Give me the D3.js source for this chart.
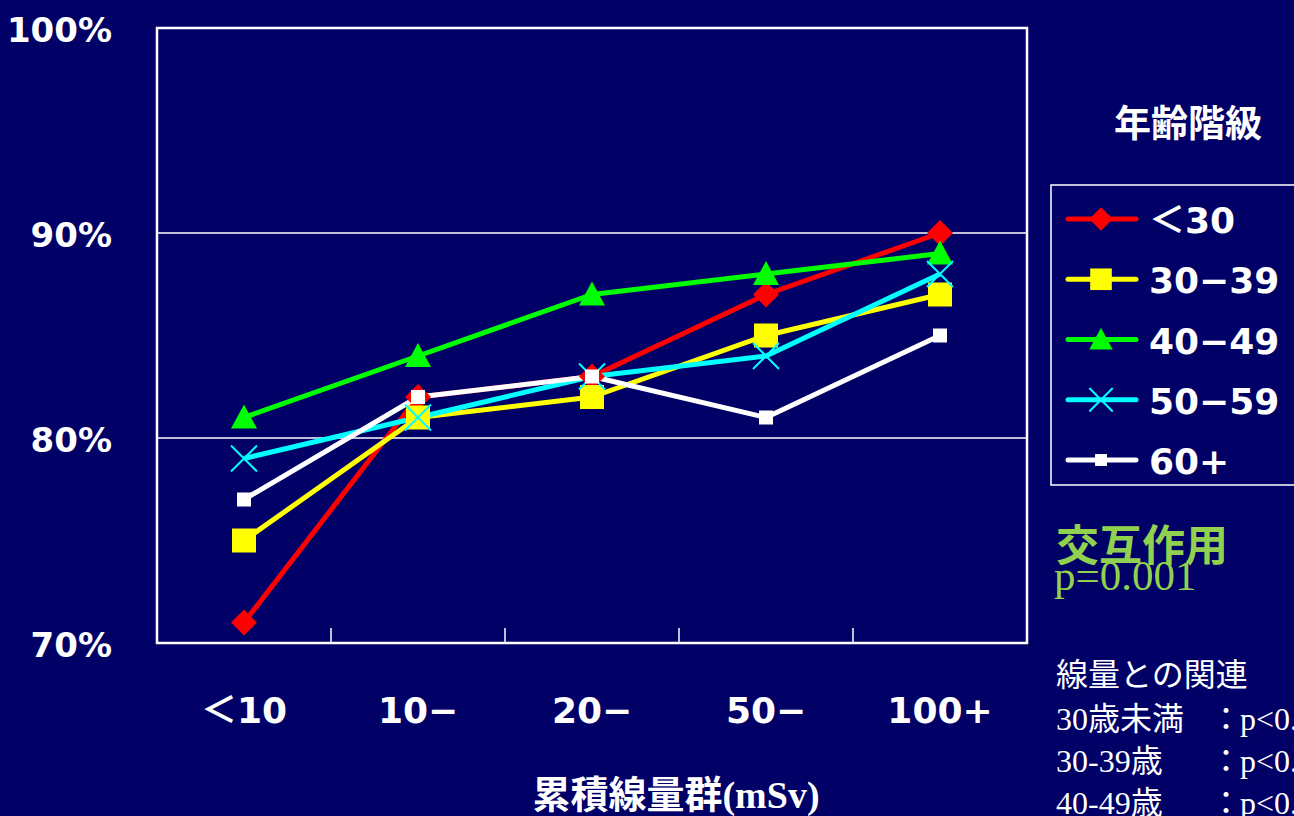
<!DOCTYPE html>
<html>
<head>
<meta charset="utf-8">
<script src="https://cdn.jsdelivr.net/npm/d3@7"></script>
<style>
  html, body { margin: 0; padding: 0; background: #000066; }
  svg { display: block; }
</style>
</head>
<body>
<svg id="chart" width="1294" height="816"></svg>
<script>
// Dose groups (cumulative dose, mSv)
const doseGroups = ["＜10", "10−", "20−", "50−", "100+"];
// Age classes
const ageClasses = ["＜30", "30−39", "40−49", "50−59", "60+"];
// Percent values per age class, one per dose group
const under30 = [71, 82, 83, 87, 90];
const age30s = [75, 81, 82, 85, 87];
const age40s = [81, 84, 87, 88, 89];
const age50s = [79, 81, 83, 84, 88];
const age60plus = [77, 82, 83, 81, 85];
const yTicks = [70, 80, 90, 100];

const seriesValues = [under30, age30s, age40s, age50s, age60plus];
const colors = ["#ff0000", "#ffff00", "#00ff00", "#00ffff", "#ffffff"];
const markers = ["diamond", "square", "triangle", "cross", "smallSquare"];

const labelFont = "'DejaVu Sans', 'Noto Sans CJK JP', sans-serif";
const serifFont = "'Liberation Serif', 'Times New Roman', 'Noto Sans CJK JP', sans-serif";

const svg = d3.select("#chart");
const plotLeft = 157, plotRight = 1027, plotTop = 28, plotBottom = 643;

const x = d3.scaleBand().domain(doseGroups).range([plotLeft, plotRight]);
const y = d3.scaleLinear().domain([70, 100]).range([plotBottom, plotTop]);

// Gridlines at 80% and 90%
svg.append("g").selectAll("line").data([80, 90]).join("line")
  .attr("x1", plotLeft).attr("x2", plotRight)
  .attr("y1", d => y(d)).attr("y2", d => y(d))
  .attr("stroke", "#ffffff").attr("stroke-width", 1.5);

// Plot frame
svg.append("rect")
  .attr("x", plotLeft).attr("y", plotTop)
  .attr("width", plotRight - plotLeft).attr("height", plotBottom - plotTop)
  .attr("fill", "none").attr("stroke", "#ffffff").attr("stroke-width", 2.5);

// Category labels on bottom axis
const xAxis = d3.axisBottom(x).tickSize(0).tickFormat(d => d);
const gx = svg.append("g").attr("transform", `translate(0,${plotBottom})`).call(xAxis);
gx.select(".domain").remove();
gx.selectAll("text")
  .attr("fill", "#ffffff")
  .attr("y", 54)
  .style("font-family", labelFont)
  .style("font-weight", "bold")
  .style("font-size", "36px");
// Separator ticks between categories
svg.append("g").selectAll("line").data(doseGroups.slice(1)).join("line")
  .attr("x1", d => x(d)).attr("x2", d => x(d))
  .attr("y1", plotBottom).attr("y2", plotBottom - 15)
  .attr("stroke", "#ffffff").attr("stroke-width", 1.5);

// Y axis labels
const yAxis = d3.axisLeft(y).tickValues(yTicks).tickSize(0).tickFormat(d => d + "%");
const gy = svg.append("g").attr("transform", `translate(112,0)`).call(yAxis);
gy.select(".domain").remove();
gy.selectAll("text")
  .attr("fill", "#ffffff")
  .attr("x", 0)
  .attr("dy", "0.4em")
  .style("font-family", labelFont)
  .style("font-weight", "bold")
  .style("font-size", "34px");

// Marker drawing
function drawMarker(g, type, color, cx, cy, scale) {
  const s = scale || 1;
  if (type === "diamond") {
    const r = 13 * s;
    g.append("path").attr("d", `M${cx},${cy - r}L${cx + r},${cy}L${cx},${cy + r}L${cx - r},${cy}Z`).attr("fill", color);
  } else if (type === "square") {
    const r = 12 * s;
    g.append("rect").attr("x", cx - r).attr("y", cy - r).attr("width", 2 * r).attr("height", 2 * r).attr("fill", color);
  } else if (type === "triangle") {
    const r = 13 * s;
    g.append("path").attr("d", `M${cx},${cy - r}L${cx + r},${cy + r * 0.85}L${cx - r},${cy + r * 0.85}Z`).attr("fill", color);
  } else if (type === "cross") {
    const r = 13 * s;
    g.append("path").attr("d", `M${cx - r},${cy - r}L${cx + r},${cy + r}M${cx - r},${cy + r}L${cx + r},${cy - r}`)
      .attr("stroke", color).attr("stroke-width", 2).attr("fill", "none");
  } else if (type === "smallSquare") {
    const r = 7 * s;
    g.append("rect").attr("x", cx - r).attr("y", cy - r).attr("width", 2 * r).attr("height", 2 * r).attr("fill", color);
  }
}

const line = d3.line()
  .x((d, i) => x(doseGroups[i]) + x.bandwidth() / 2)
  .y(d => y(d));

// Lines, then markers on top
seriesValues.forEach((vals, k) => {
  svg.append("path").datum(vals)
    .attr("d", line)
    .attr("fill", "none")
    .attr("stroke", colors[k])
    .attr("stroke-width", 5)
    .attr("stroke-linejoin", "round");
});
seriesValues.forEach((vals, k) => {
  const g = svg.append("g");
  vals.forEach((v, i) => {
    drawMarker(g, markers[k], colors[k], x(doseGroups[i]) + x.bandwidth() / 2, y(v));
  });
});

// Axis title
svg.append("text")
  .attr("x", 676).attr("y", 808)
  .attr("text-anchor", "middle")
  .attr("fill", "#ffffff")
  .style("font-family", serifFont)
  .style("font-weight", "bold")
  .style("font-size", "38px")
  .text("累積線量群(mSv)");

// Legend
svg.append("text")
  .attr("x", 1188).attr("y", 137)
  .attr("text-anchor", "middle")
  .attr("fill", "#ffffff")
  .style("font-family", "'Noto Sans CJK JP', sans-serif")
  .style("font-weight", "bold")
  .style("font-size", "37px")
  .text("年齢階級");

svg.append("rect")
  .attr("x", 1051).attr("y", 185)
  .attr("width", 260).attr("height", 300)
  .attr("fill", "none").attr("stroke", "#ffffff").attr("stroke-width", 1.5);

const legendY = d3.scalePoint().domain(ageClasses).range([219, 460]);
ageClasses.forEach((name, k) => {
  const ly = legendY(name);
  const g = svg.append("g");
  g.append("line")
    .attr("x1", 1068).attr("x2", 1136).attr("y1", ly).attr("y2", ly)
    .attr("stroke", colors[k]).attr("stroke-width", 5).attr("stroke-linecap", "round");
  drawMarker(g, markers[k], colors[k], 1101, ly, k === 4 ? 0.85 : 0.9);
  g.append("text")
    .attr("x", 1149).attr("y", ly + 14)
    .attr("fill", "#ffffff")
    .style("font-family", labelFont)
    .style("font-weight", "bold")
    .style("font-size", "36px")
    .text(name);
});

// Interaction note
svg.append("text")
  .attr("x", 1056).attr("y", 561)
  .attr("fill", "#92d050")
  .style("font-family", "'Noto Sans CJK JP', sans-serif")
  .style("font-weight", "bold")
  .style("font-size", "43px")
  .text("交互作用");
svg.append("text")
  .attr("x", 1054).attr("y", 590)
  .attr("fill", "#92d050")
  .style("font-family", serifFont)
  .style("font-size", "43px")
  .text("p=0.001");

// Dose association notes
const noteHeading = "線量との関連";
const noteGroups = ["30歳未満", "30-39歳", "40-49歳"];
const notePValues = ["p<0.001", "p<0.001", "p<0.001"];
svg.append("text")
  .attr("x", 1056).attr("y", 686)
  .attr("fill", "#ffffff")
  .style("font-family", serifFont)
  .style("font-size", "32px")
  .text(noteHeading);
const noteY = d3.scaleLinear().domain([0, 1]).range([730, 772]);
noteGroups.forEach((t, i) => {
  const g = svg.append("g")
    .attr("fill", "#ffffff")
    .style("font-family", serifFont)
    .style("font-size", "32px");
  g.append("text").attr("x", 1056).attr("y", noteY(i)).text(t);
  g.append("text").attr("x", 1210).attr("y", noteY(i)).text("：");
  g.append("text").attr("x", 1240).attr("y", noteY(i)).text(notePValues[i]);
});
</script>
</body>
</html>
